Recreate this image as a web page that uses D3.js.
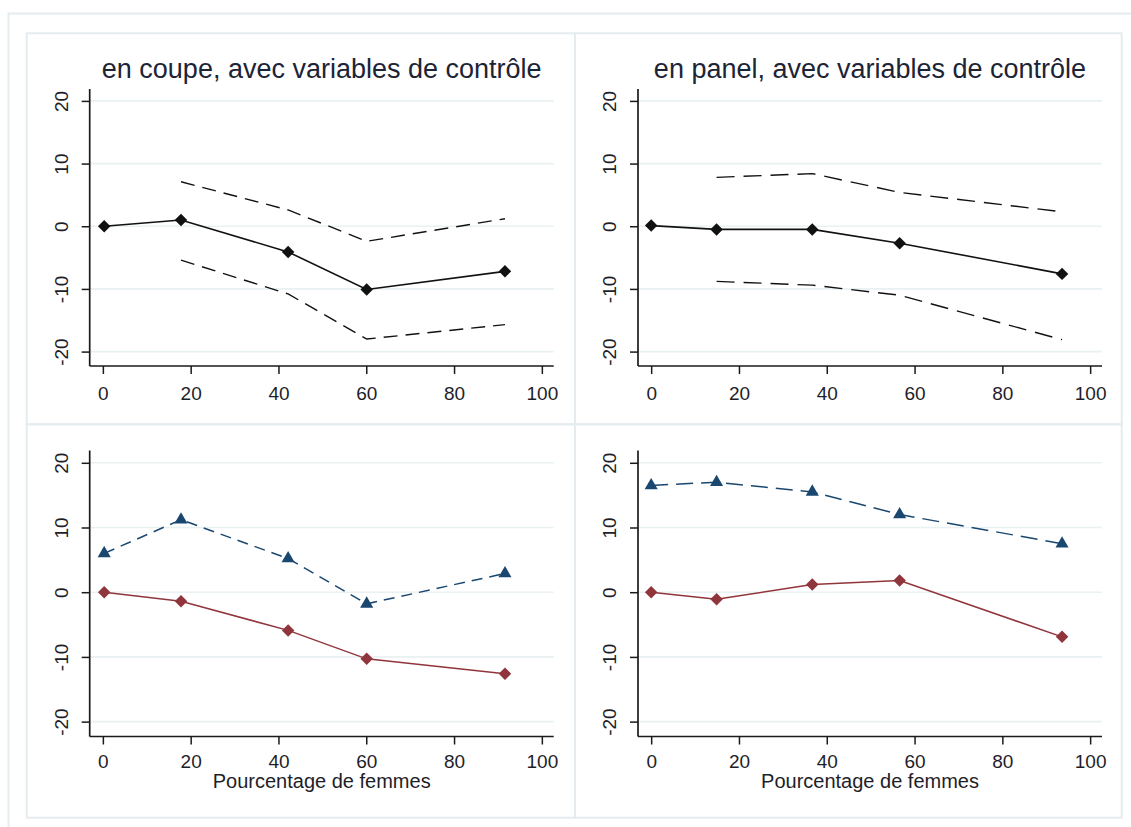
<!DOCTYPE html>
<html>
<head>
<meta charset="utf-8">
<script src="https://cdn.jsdelivr.net/npm/d3@7"></script>
<style>
  html, body { margin: 0; padding: 0; background: #ffffff; }
  svg { display: block; }
  text { font-family: "Liberation Sans", Arial, sans-serif; }
</style>
</head>
<body>
<svg id="chart" width="1131" height="827"></svg>
<script>
// Share of women in the group (x positions of the estimated points)
const xCoupe = [0.3, 17.8, 42.2, 60.1, 91.6];
const xPanel = [0, 14.9, 36.7, 56.6, 93.6];

// Cross-section estimates with controls, and their confidence bounds
const coefCoupe   = [0, 1.0, -4.1, -10.1, -7.2];
const ciHighCoupe = [null, 7.1, 2.6, -2.4, 1.2];
const ciLowCoupe  = [null, -5.4, -10.8, -18.0, -15.7];

// Panel estimates with controls, and their confidence bounds
const coefPanel   = [0.1, -0.5, -0.5, -2.7, -7.6];
const ciHighPanel = [null, 7.8, 8.4, 5.4, 2.3];
const ciLowPanel  = [null, -8.8, -9.4, -11.0, -18.1];

// Second-row series (triangles, dashed navy; diamonds, solid maroon)
const triCoupe  = [6.0, 11.2, 5.2, -1.8, 2.9];
const diaCoupe  = [0, -1.4, -5.9, -10.3, -12.6];
const triPanel  = [16.5, 17.0, 15.5, 12.0, 7.5];
const diaPanel  = [0, -1.1, 1.2, 1.8, -6.9];

// Axis ticks and text
const xTicks = [0, 20, 40, 60, 80, 100];
const yTicks = [-20, -10, 0, 10, 20];
const titles = ["en coupe, avec variables de contrôle", "en panel, avec variables de contrôle"];
const xAxisTitle = "Pourcentage de femmes";

const svg = d3.select("#chart");
const NAVY = "#1a476f", MAROON = "#90353b", BORDER = "#e4ecef", GRID = "#e9f1f3";

// outer frame
svg.append("rect").attr("x", 8.5).attr("y", 13.5).attr("width", 1140).attr("height", 830)
  .attr("fill", "none").attr("stroke", BORDER).attr("stroke-width", 2);

const colX = [[26.7, 575], [575, 1121.7]];
const rowY = [[33.3, 424.3], [424.3, 817.7]];
const plotY = [[89, 366], [450.5, 736.5]];
const labelGap = [33.5, 31.5];

const diamond = d3.symbol().type(d3.symbolSquare).size(78)();
const triangle = d3.symbol().type(d3.symbolTriangle).size(74)();
const plain = d => String(d);

function panel(col, row, cfg) {
  const [px0, px1] = colX[col];
  const [py0, py1] = rowY[row];
  svg.append("rect").attr("x", px0).attr("y", py0).attr("width", px1 - px0).attr("height", py1 - py0)
    .attr("fill", "none").attr("stroke", BORDER).attr("stroke-width", 2);

  const ax0 = px0 + 63, ax1 = ax0 + 464;
  const [ayTop, ayBot] = plotY[row];
  const x = d3.scaleLinear().domain([-3, 102.7]).range([ax0, ax1]);
  const y = d3.scaleLinear().domain([-22.3, 21.9]).range([ayBot, ayTop]);
  const g = svg.append("g");

  // gridlines
  g.append("g").selectAll("line").data(yTicks).join("line")
    .attr("x1", ax0).attr("x2", ax1).attr("y1", d => y(d)).attr("y2", d => y(d))
    .attr("stroke", GRID).attr("stroke-width", 1.6);

  // axes
  const xAxis = g.append("g").attr("transform", `translate(0,${ayBot})`)
    .call(d3.axisBottom(x).tickValues(xTicks).tickFormat(plain).tickSize(8).tickSizeOuter(0));
  const yAxis = g.append("g").attr("transform", `translate(${ax0},0)`)
    .call(d3.axisLeft(y).tickValues(yTicks).tickFormat(plain).tickSize(8).tickSizeOuter(0));
  [xAxis, yAxis].forEach(a => {
    a.select(".domain").attr("stroke", "#1a1a1a").attr("stroke-width", 1.7);
    a.selectAll(".tick line").attr("stroke", "#1a1a1a").attr("stroke-width", 1.5);
    a.selectAll(".tick text").attr("fill", "#1e1e28").attr("font-size", 19)
      .attr("font-family", "'Liberation Sans', Arial, sans-serif");
  });
  xAxis.select(".domain").attr("d", `M${ax0},0H${ax1}`);
  yAxis.select(".domain").attr("d", `M0,${ayTop}V${ayBot}`);
  xAxis.selectAll(".tick text").attr("dy", null).attr("y", labelGap[row]);
  yAxis.selectAll(".tick text")
    .attr("x", null).attr("dy", null).attr("text-anchor", "middle")
    .attr("transform", "translate(-22,0) rotate(-90)").attr("y", 0);

  if (cfg.title) {
    svg.append("text").attr("x", (ax0 + ax1) / 2).attr("y", 77.5).attr("text-anchor", "middle")
      .attr("font-size", 27).attr("fill", "#1c2436").text(cfg.title);
  }
  if (cfg.xTitle) {
    svg.append("text").attr("x", (ax0 + ax1) / 2).attr("y", 788).attr("text-anchor", "middle")
      .attr("font-size", 20).attr("fill", "#1e1e28").text(cfg.xTitle);
  }

  cfg.series.forEach(s => {
    const pts = s.values.map((v, i) => [cfg.xs[i], v]);
    const line = d3.line().defined(d => d[1] !== null).x(d => x(d[0])).y(d => y(d[1]));
    g.append("path").datum(pts).attr("d", line).attr("fill", "none")
      .attr("stroke", s.color).attr("stroke-width", s.width || 1.5)
      .attr("stroke-dasharray", s.dash || null);
    if (s.marker) {
      g.append("g").selectAll("path").data(pts.filter(d => d[1] !== null)).join("path")
        .attr("d", s.marker === "diamond" ? diamond : triangle)
        .attr("transform", d => `translate(${x(d[0])},${y(d[1])})` + (s.marker === "diamond" ? " rotate(45)" : ""))
        .attr("fill", s.color);
    }
  });
}

panel(0, 0, {
  title: titles[0], xs: xCoupe,
  series: [
    { values: ciHighCoupe, color: "#111", dash: "14,8", width: 1.4 },
    { values: ciLowCoupe, color: "#111", dash: "14,8", width: 1.4 },
    { values: coefCoupe, color: "#111", marker: "diamond", width: 1.6 }
  ]
});
panel(1, 0, {
  title: titles[1], xs: xPanel,
  series: [
    { values: ciHighPanel, color: "#111", dash: "18,9", width: 1.4 },
    { values: ciLowPanel, color: "#111", dash: "18,9", width: 1.4 },
    { values: coefPanel, color: "#111", marker: "diamond", width: 1.6 }
  ]
});
panel(0, 1, {
  xTitle: xAxisTitle, xs: xCoupe,
  series: [
    { values: triCoupe, color: NAVY, dash: "11,7", marker: "triangle", width: 1.5 },
    { values: diaCoupe, color: MAROON, marker: "diamond", width: 1.5 }
  ]
});
panel(1, 1, {
  xTitle: xAxisTitle, xs: xPanel,
  series: [
    { values: triPanel, color: NAVY, dash: "17,8", marker: "triangle", width: 1.5 },
    { values: diaPanel, color: MAROON, marker: "diamond", width: 1.5 }
  ]
});
</script>
</body>
</html>
